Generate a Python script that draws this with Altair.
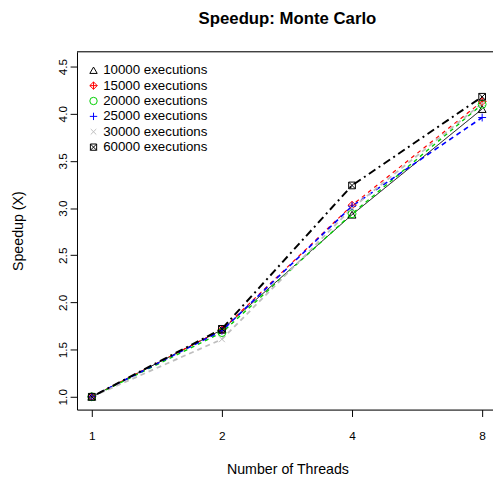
import altair as alt
import pandas as pd

threads = [1, 2, 4, 8]
series = ["10000 executions", "15000 executions", "20000 executions",
          "25000 executions", "30000 executions", "60000 executions"]
codes = ["s1", "s2", "s3", "s4", "s5", "s6"]
s10000 = [1.00, 1.71, 2.93, 4.05]
s15000 = [1.00, 1.71, 3.03, 4.13]
s20000 = [1.00, 1.68, 2.94, 4.10]
s25000 = [1.00, 1.70, 3.02, 3.96]
s30000 = [1.00, 1.61, 3.00, 4.11]
s60000 = [1.00, 1.72, 3.24, 4.18]
values = [s10000, s15000, s20000, s25000, s30000, s60000]

colors = ["#000000", "#FF0000", "#00CD00", "#0000FF", "#BEBEBE", "#000000"]
dashes = [[1, 0], [4, 4], [4, 4], [5, 4], [5, 4], [2, 4, 8, 4]]
widths = [1, 2, 2, 2, 2, 2.5]
shapes = [
    "triangle-up",
    "M0,-1L1,0L0,1L-1,0ZM0,-1L0,1M-1,0L1,0",
    "circle",
    "M-1,0L1,0M0,-1L0,1",
    "M-0.75,-0.75L0.75,0.75M-0.75,0.75L0.75,-0.75",
    "M-0.85,-0.85L0.85,-0.85L0.85,0.85L-0.85,0.85ZM-0.85,-0.85L0.85,0.85M-0.85,0.85L0.85,-0.85",
]

rows = []
for si, name in enumerate(series):
    for ti, t in enumerate(threads):
        rows.append({"series": name, "code": codes[si], "idx": ti, "threads": t,
                     "speedup": values[si][ti]})
df = pd.DataFrame(rows)

FONT = "Liberation Sans"
W, H = 422, 363

xscale = alt.Scale(domain=[-0.1136, 3.0833], nice=False, zero=False)
yscale = alt.Scale(domain=[0.864, 4.657], nice=False, zero=False)

xaxis = alt.Axis(values=[0, 1, 2, 3], labelExpr="pow(2, datum.value)",
                 title="Number of Threads", grid=False, tickSize=7, tickColor="black",
                 domainColor="black", labelColor="black", labelFont=FONT, labelFontSize=12,
                 labelBaseline="alphabetic", labelPadding=23,
                 titleFont=FONT, titleFontSize=14.4, titleFontWeight="normal", titleColor="black",
                 titleX=213.5, titleY=65, titleBaseline="alphabetic", titleAlign="center")
yaxis = alt.Axis(values=[1.0, 1.5, 2.0, 2.5, 3.0, 3.5, 4.0, 4.5], format=".1f",
                 title="Speedup (X)", grid=False, tickSize=7, tickColor="black",
                 domainColor="black", labelColor="black", labelFont=FONT, labelFontSize=12,
                 labelAngle=-90, labelAlign="center", labelBaseline="alphabetic", labelPadding=4,
                 titleFont=FONT, titleFontSize=14.4, titleFontWeight="normal", titleColor="black",
                 titleAngle=-90, titleX=-55.5, titleY=181.5, titleBaseline="alphabetic",
                 titleAlign="center")

legend = alt.Legend(title=None, orient="none", legendX=10, legendY=12, padding=0,
                    labelFont=FONT, labelFontSize=13.5, labelColor="black", labelOffset=3,
                    symbolSize=56, symbolStrokeWidth=1, rowPadding=0.6,
                    symbolFillColor="transparent")

base = alt.Chart(df)

lines = base.mark_line().encode(
    x=alt.X("idx:Q", scale=xscale, axis=xaxis),
    y=alt.Y("speedup:Q", scale=yscale, axis=yaxis),
    stroke=alt.Stroke("code:N", scale=alt.Scale(domain=codes, range=colors), legend=None),
    strokeDash=alt.StrokeDash("code:N", scale=alt.Scale(domain=codes, range=dashes), legend=None),
    strokeWidth=alt.StrokeWidth("code:N", scale=alt.Scale(domain=codes, range=widths), legend=None),
    detail="code:N",
    order="idx:Q",
)

points = base.mark_point(filled=False, size=64, strokeWidth=1, opacity=1).encode(
    x=alt.X("idx:Q", scale=xscale),
    y=alt.Y("speedup:Q", scale=yscale),
    color=alt.Color("series:N", scale=alt.Scale(domain=series, range=colors), legend=legend),
    shape=alt.Shape("series:N", scale=alt.Scale(domain=series, range=shapes), legend=legend),
)

top_rule = alt.Chart(pd.DataFrame({"a": [0]})).mark_rule(color="black", strokeWidth=1).encode(
    x=alt.value(0), x2=alt.value(W), y=alt.value(0)
)

chart = alt.layer(lines, points, top_rule).resolve_legend(
    stroke="independent", strokeDash="independent", strokeWidth="independent"
).properties(
    width=W, height=H,
    autosize=alt.AutoSizeParams(type="none"),
    padding={"left": 70, "top": 41, "right": 0, "bottom": 66},
    title=alt.TitleParams("Speedup: Monte Carlo", font=FONT, fontSize=17, fontWeight="bold",
                          color="black", anchor="middle", baseline="alphabetic", offset=11, dx=2.5),
).configure_view(stroke=None).configure(background="white")

chart.save("out.html", embed_options={"renderer": "svg", "actions": False})
